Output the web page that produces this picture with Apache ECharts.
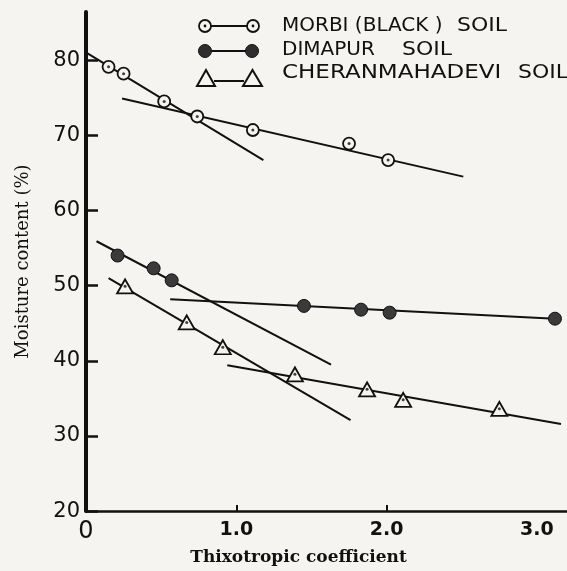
<!DOCTYPE html>
<html>
<head>
<meta charset="utf-8">
<script src="https://cdn.jsdelivr.net/npm/echarts@6/dist/echarts.min.js"></script>
<style>
  html, body { margin: 0; padding: 0; background: #f5f4f0; }
  #main { width: 567px; height: 571px; }
</style>
</head>
<body>
<div id="main"></div>
<script>
// points
var morbiX    = [0.15, 0.25, 0.52, 0.74, 1.11, 1.75, 2.01];
var morbiY    = [79.1, 78.2, 74.5, 72.5, 70.7, 68.9, 66.7];
var dimapurX  = [0.21, 0.45, 0.57, 1.45, 1.83, 2.02, 3.12];
var dimapurY  = [54.0, 52.3, 50.7, 47.3, 46.8, 46.4, 45.6];
var cheranX   = [0.26, 0.67, 0.91, 1.39, 1.87, 2.11, 2.75];
var cheranY   = [49.9, 45.1, 41.8, 38.2, 36.2, 34.8, 33.6];

// fitted straight lines (two per soil), end points
var morbiFit1   = [[0.01, 80.9], [1.18, 66.7]];
var morbiFit2   = [[0.24, 74.9], [2.51, 64.5]];
var dimapurFit1 = [[0.07, 55.9], [1.63, 39.5]];
var dimapurFit2 = [[0.56, 48.2], [3.12, 45.6]];
var cheranFit1  = [[0.15, 51.0], [1.76, 32.1]];
var cheranFit2  = [[0.94, 39.4], [3.16, 31.6]];

var yTicks = [20, 30, 40, 50, 60, 70, 80];

var ink = '#111111';
var paper = '#f5f4f0';

function pts(xs, ys) {
  return xs.map(function (x, i) { return [x, ys[i]]; });
}

function fitLine(data) {
  return {
    type: 'line', data: data, showSymbol: false, silent: true, z: 2,
    lineStyle: { color: ink, width: 2 }
  };
}

function marks(data, symbol, size, fill, bw) {
  return {
    type: 'scatter', data: data, symbol: symbol, symbolSize: size, z: 3,
    itemStyle: { color: fill, borderColor: ink, borderWidth: bw, opacity: 1 }
  };
}

function dots(data) {
  return {
    type: 'scatter', data: data, symbol: 'circle', symbolSize: 3, z: 4,
    itemStyle: { color: ink }
  };
}

var myChart = echarts.init(document.getElementById('main'));

var legendFont = '20px "DejaVu Sans"';

var option = {
  backgroundColor: paper,
  animation: false,
  grid: { left: 86, right: 0, top: 12, bottom: 56 },
  xAxis: {
    type: 'value', min: 0, max: 3.2, interval: 1,
    name: 'Thixotropic coefficient',
    nameLocation: 'middle', nameGap: 36,
    nameTextStyle: {
      fontFamily: 'DejaVu Serif', fontWeight: 'bold', fontSize: 17, color: ink,
      padding: [0, 56, 0, 0]
    },
    axisLine: { lineStyle: { color: ink, width: 2.5 } },
    axisTick: { inside: true, length: 6, customValues: [1, 2], lineStyle: { color: ink, width: 2 } },
    axisLabel: {
      margin: 9, color: ink, fontFamily: 'DejaVu Sans', fontWeight: 'bold', fontSize: 19,
      formatter: function (v) { return v === 0 ? '{z|0}' : v.toFixed(1); },
      rich: { z: { fontFamily: 'DejaVu Sans', fontWeight: 'normal', fontSize: 24, color: ink } }
    },
    splitLine: { show: false }
  },
  yAxis: {
    type: 'value', min: 20, max: 86.4, interval: 10,
    name: 'Moisture content (%)',
    nameLocation: 'middle', nameGap: 54, nameRotate: 90,
    nameTextStyle: { fontFamily: 'DejaVu Serif', fontSize: 18, color: ink },
    axisLine: { lineStyle: { color: ink, width: 4 } },
    axisTick: { inside: true, length: 12, customValues: yTicks, lineStyle: { color: ink, width: 2.5 } },
    axisLabel: { margin: 6, color: ink, fontFamily: 'DejaVu Sans', fontSize: 21, customValues: yTicks },
    splitLine: { show: false }
  },
  series: [
    fitLine(morbiFit1), fitLine(morbiFit2),
    fitLine(dimapurFit1), fitLine(dimapurFit2),
    fitLine(cheranFit1), fitLine(cheranFit2),
    marks(pts(morbiX, morbiY), 'circle', 12, paper, 1.8),
    dots(pts(morbiX, morbiY)),
    marks(pts(dimapurX, dimapurY), 'circle', 13, '#3a3a3a', 1),
    marks(pts(cheranX, cheranY), 'triangle', [16, 14], paper, 1.8),
    dots(pts(cheranX, cheranY))
  ],
  // key drawn by hand: marker-line-marker like the original
  graphic: [
    { type: 'line', shape: { x1: 205, y1: 26, x2: 253, y2: 26 }, style: { stroke: ink, lineWidth: 2 } },
    { type: 'circle', shape: { cx: 205, cy: 26, r: 6 }, style: { fill: paper, stroke: ink, lineWidth: 1.8 } },
    { type: 'circle', shape: { cx: 253, cy: 26, r: 6 }, style: { fill: paper, stroke: ink, lineWidth: 1.8 } },
    { type: 'circle', shape: { cx: 205, cy: 26, r: 1.4 }, style: { fill: ink } },
    { type: 'circle', shape: { cx: 253, cy: 26, r: 1.4 }, style: { fill: ink } },

    { type: 'line', shape: { x1: 205, y1: 51, x2: 252, y2: 51 }, style: { stroke: ink, lineWidth: 2 } },
    { type: 'circle', shape: { cx: 205, cy: 51, r: 6.5 }, style: { fill: '#2e2e2e', stroke: ink, lineWidth: 1 } },
    { type: 'circle', shape: { cx: 252, cy: 51, r: 6.5 }, style: { fill: '#2e2e2e', stroke: ink, lineWidth: 1 } },

    { type: 'line', shape: { x1: 214, y1: 81, x2: 244, y2: 81 }, style: { stroke: ink, lineWidth: 2 } },
    { type: 'polygon', shape: { points: [[197, 86], [206, 70], [215, 86]] }, style: { fill: paper, stroke: ink, lineWidth: 2 } },
    { type: 'polygon', shape: { points: [[243, 86], [252.5, 70], [262, 86]] }, style: { fill: paper, stroke: ink, lineWidth: 2 } },

    { type: 'text', x: 282, y: 26, style: { text: 'MORBI (BLACK )', font: legendFont, fill: ink, verticalAlign: 'middle' } },
    { type: 'text', x: 457, y: 26, scaleX: 1.1, style: { text: 'SOIL', font: legendFont, fill: ink, verticalAlign: 'middle' } },
    { type: 'text', x: 282, y: 50, style: { text: 'DIMAPUR', font: legendFont, fill: ink, verticalAlign: 'middle' } },
    { type: 'text', x: 402, y: 50, scaleX: 1.1, style: { text: 'SOIL', font: legendFont, fill: ink, verticalAlign: 'middle' } },
    { type: 'text', x: 282, y: 73, scaleX: 1.15, style: { text: 'CHERANMAHADEVI', font: legendFont, fill: ink, verticalAlign: 'middle' } },
    { type: 'text', x: 518, y: 73, scaleX: 1.1, style: { text: 'SOIL', font: legendFont, fill: ink, verticalAlign: 'middle' } }
  ]
};

myChart.setOption(option);
</script>
</body>
</html>
